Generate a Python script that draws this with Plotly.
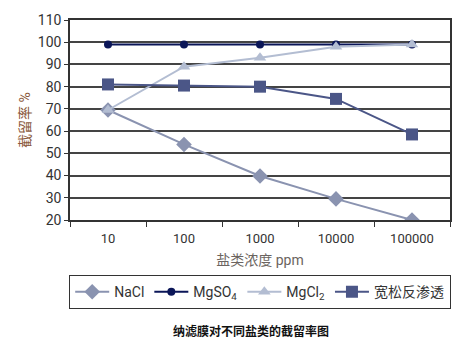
import plotly.graph_objects as go

categories = ["10", "100", "1000", "10000", "100000"]
nacl = [69.5, 54, 39.8, 29.5, 20]
mgso4 = [99, 99, 99, 99, 99]
mgcl2 = [69.5, 89, 93, 98, 99]
loose_ro = [81, 80.5, 80, 74.5, 58.5]

series = [
    ("NaCl", nacl, "#8a93b0", "diamond", 12),
    ("MgSO<sub>4</sub>", mgso4, "#0b1658", "circle", 8),
    ("MgCl<sub>2</sub>", mgcl2, "#b3bdd2", "triangle-up", 11),
    ("宽松反渗透", loose_ro, "#4b5687", "square", 12),
]

fig = go.Figure()
for name, vals, color, sym, size in series:
    fig.add_trace(go.Scatter(
        x=categories, y=vals, name=name, mode="lines+markers",
        line=dict(color=color, width=2),
        marker=dict(symbol=sym, size=size, color=color),
    ))

fig.update_layout(
    width=474, height=351,
    margin=dict(l=70, r=24, t=14, b=131),
    paper_bgcolor="white", plot_bgcolor="white",
    font=dict(family="Roboto, 'Noto Sans CJK SC'", size=12, color="#333"),
    showlegend=True,
    legend=dict(orientation="h", x=0.5, xanchor="center", y=-0.275, yanchor="top",
                bordercolor="#333", borderwidth=1.2, font=dict(size=14, color="#333"),
                itemwidth=34, tracegroupgap=0),
    annotations=[dict(text="<b>纳滤膜对不同盐类的截留率图</b>", xref="paper", yref="paper",
                      x=0.476, y=-0.55, xanchor="center", yanchor="middle",
                      showarrow=False, font=dict(size=12, color="#111",
                                                 family="'Noto Sans CJK SC'"))],
)
fig.update_xaxes(
    type="category", range=[-0.5, 4.5], tickson="boundaries",
    ticks="outside", ticklen=5, tickcolor="#333", tickwidth=1.2,
    showline=True, linecolor="#333", linewidth=1.5, mirror=True,
    showgrid=False, tickfont=dict(size=13, color="#333"), ticklabelstandoff=6,
    title=dict(text="盐类浓度 ppm", font=dict(size=14, color="#6b6460"), standoff=10),
)
fig.update_yaxes(
    range=[20, 110], dtick=10, ticks="outside", ticklen=4, tickcolor="#333",
    showline=True, linecolor="#333", linewidth=1.5, mirror=True,
    showgrid=True, gridcolor="#444", gridwidth=1.5,
    tickfont=dict(size=14, color="#333"),
    title=dict(text="截留率 %", font=dict(size=14, color="#8b5a3c"), standoff=4),
)

fig.write_html("out.html")
